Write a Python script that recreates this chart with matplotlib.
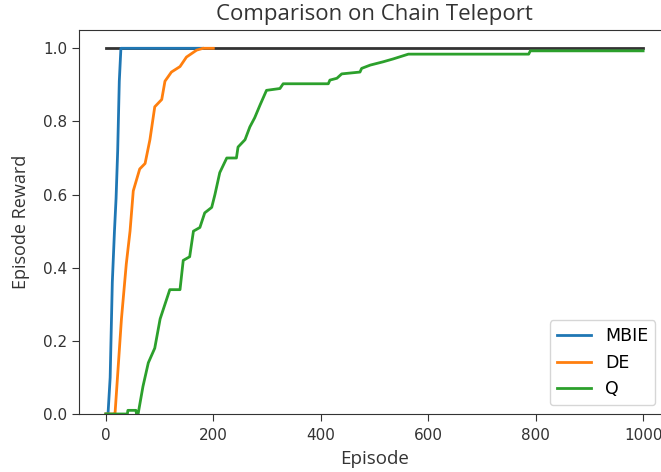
import matplotlib
matplotlib.use("Agg")
import matplotlib.pyplot as plt

# Reference optimum line
opt_x = [0, 1000]
opt_y = [1.0, 1.0]

# MBIE
mbie_x = [0, 4, 8, 12, 16, 19, 22, 25, 28, 180]
mbie_y = [0.0, 0.0, 0.10, 0.36, 0.50, 0.59, 0.72, 0.91, 1.0, 1.0]

# DE
de_x = [0, 15, 17, 29, 38, 45, 51, 63, 73, 82, 91, 104, 110, 122, 138, 150, 169, 181, 200]
de_y = [0.0, 0.0, 0.0, 0.26, 0.41, 0.50, 0.61, 0.67, 0.685, 0.75, 0.84, 0.86, 0.91,
        0.935, 0.95, 0.976, 0.995, 1.0, 1.0]

# Q
q_x = [0, 40, 41, 56, 57, 60, 69, 79, 91, 101, 110, 119, 138, 144, 156, 163, 175, 184,
       197, 203, 212, 225, 243, 246, 259, 268, 277, 287, 299, 324, 330, 414, 417, 430,
       439, 473, 476, 492, 516, 535, 563, 787, 790, 1000]
q_y = [0.0, 0.0, 0.01, 0.01, 0.0, 0.0, 0.075, 0.14, 0.18, 0.26, 0.30, 0.34, 0.34, 0.42,
       0.43, 0.50, 0.51, 0.55, 0.565, 0.60, 0.66, 0.70, 0.70, 0.73, 0.75, 0.785, 0.81,
       0.845, 0.885, 0.89, 0.903, 0.903, 0.913, 0.918, 0.93, 0.935, 0.945, 0.954,
       0.963, 0.971, 0.984, 0.984, 0.993, 0.993]

labels = ["MBIE", "DE", "Q"]

W, H = 661, 472
fig = plt.figure(figsize=(W / 100, H / 100), dpi=100)
ax = fig.add_axes([79 / W, (H - 414) / H, (670 - 79) / W, (414 - 30) / H])

ax.plot(opt_x, opt_y, color="#333333", lw=2.0)
ax.plot(mbie_x, mbie_y, color="#1f77b4", lw=2.0, label=labels[0])
ax.plot(de_x, de_y, color="#ff7f0e", lw=2.0, label=labels[1])
ax.plot(q_x, q_y, color="#2ca02c", lw=2.0, label=labels[2])

ax.set_xlim(-50, 1050)
ax.set_ylim(0, 1.05)
ax.set_xticks([0, 200, 400, 600, 800, 1000])
ax.set_yticks([0.0, 0.2, 0.4, 0.6, 0.8, 1.0])
ax.tick_params(labelsize=11, colors="#333333", labelcolor="#333333", length=5)
ax.tick_params(axis="x", pad=5)
for s in ax.spines.values():
    s.set_color("#333333")
ax.set_xlabel("Episode", fontsize=13.5, color="#333333", family="Open Sans", labelpad=5)
ax.set_ylabel("Episode Reward", fontsize=13, color="#333333", family="Open Sans", labelpad=9)
ax.set_title("Comparison on Chain Teleport", fontsize=16, color="#333333",
             family="Open Sans", pad=7)
leg = ax.legend(loc="lower right", fontsize=12.5, bbox_to_anchor=(0.99, 0.0),
                borderaxespad=0.5)
leg.get_frame().set_edgecolor("#cccccc")

fig.savefig("out.png", dpi=100)
